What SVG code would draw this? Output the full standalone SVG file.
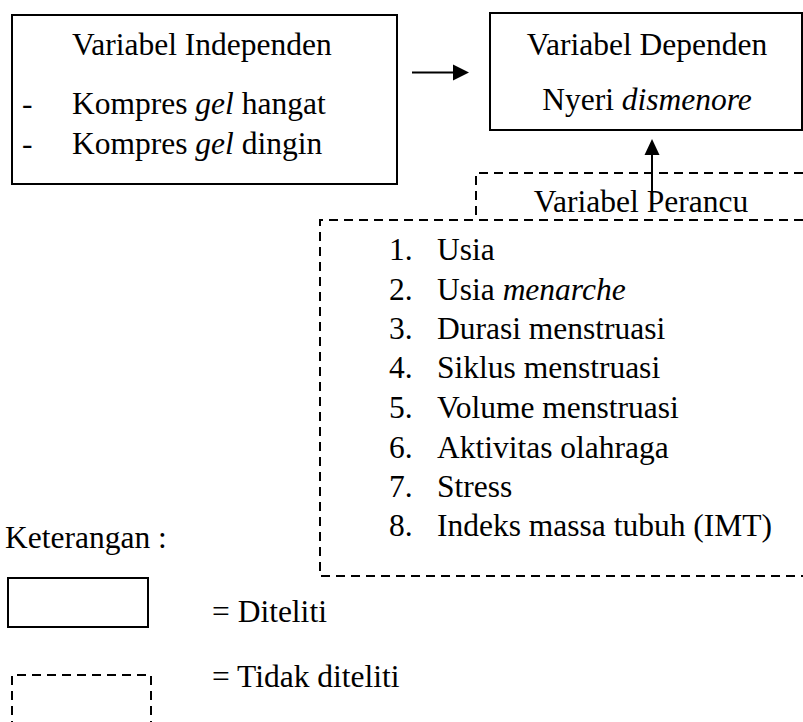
<svg xmlns="http://www.w3.org/2000/svg" width="803" height="722" viewBox="0 0 803 722">
<defs>
<style>
text{font-family:"Liberation Serif","Times New Roman",serif;font-size:31.5px;fill:#000}
.it{font-style:italic}
.box{fill:none;stroke:#000;stroke-width:2}
.dash{fill:none;stroke:#000;stroke-width:2;stroke-dasharray:9 6}
.conn{stroke:#000;stroke-width:2;fill:none}
.head{fill:#000;stroke:none}
</style>
</defs>
<rect width="803" height="722" fill="#fff"/>
<g id="independen">
<rect class="box" x="12" y="15" width="385" height="169"/>
<text x="72" y="55">Variabel Independen</text>
<text x="22" y="114">-</text>
<text x="72" y="114">Kompres <tspan class="it">gel</tspan> hangat</text>
<text x="22" y="154">-</text>
<text x="72" y="154">Kompres <tspan class="it">gel</tspan> dingin</text>
</g>
<g id="dependen">
<rect class="box" x="490" y="13" width="312" height="117"/>
<text x="647" y="55" text-anchor="middle">Variabel Dependen</text>
<text x="647" y="110" text-anchor="middle">Nyeri <tspan class="it">dismenore</tspan></text>
</g>
<g id="perancu">
<path class="dash" d="M803,173 H476 V220"/>
<path class="dash" d="M803,220 H320 V576 H803"/>
<text x="641" y="212" text-anchor="middle">Variabel Perancu</text>
<text x="389" y="260">1.</text><text x="437" y="260">Usia</text>
<text x="389" y="300">2.</text><text x="437" y="300">Usia <tspan class="it">menarche</tspan></text>
<text x="389" y="339">3.</text><text x="437" y="339">Durasi menstruasi</text>
<text x="389" y="378">4.</text><text x="437" y="378">Siklus menstruasi</text>
<text x="389" y="418">5.</text><text x="437" y="418">Volume menstruasi</text>
<text x="389" y="458">6.</text><text x="437" y="458">Aktivitas olahraga</text>
<text x="389" y="497">7.</text><text x="437" y="497">Stress</text>
<text x="389" y="536">8.</text><text x="437" y="536">Indeks massa tubuh (IMT)</text>
</g>
<g id="connectors">
<line class="conn" x1="412" y1="72.5" x2="455" y2="72.5"/>
<polygon class="head" points="453,64.5 469,72.5 453,80.5"/>
<line class="conn" x1="652" y1="196" x2="652" y2="153"/>
<polygon class="head" points="644.5,155 652,139 659.5,155"/>
</g>
<g id="legend">
<text x="5" y="548">Keterangan :</text>
<rect class="box" x="8" y="578" width="140" height="49"/>
<text x="212" y="622">= Diteliti</text>
<path class="dash" d="M12,730 V675 H151 V730"/>
<text x="212" y="687">= Tidak diteliti</text>
</g>
</svg>
